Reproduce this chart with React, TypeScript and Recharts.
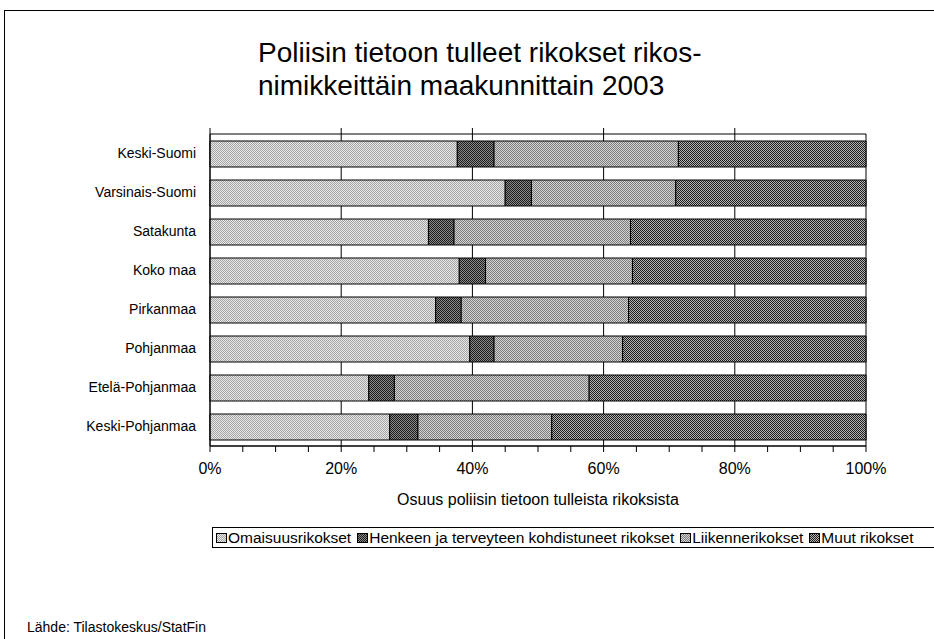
import { BarChart, Bar, XAxis, YAxis, CartesianGrid, ReferenceArea, Label } from 'recharts';

const regions = [
  'Keski-Suomi',
  'Varsinais-Suomi',
  'Satakunta',
  'Koko maa',
  'Pirkanmaa',
  'Pohjanmaa',
  'Etelä-Pohjanmaa',
  'Keski-Pohjanmaa'
];
const omaisuus = [37.7, 45.0, 33.3, 38.0, 34.4, 39.6, 24.2, 27.4];
const henkeen = [5.6, 4.0, 3.9, 4.0, 3.9, 3.7, 3.9, 4.3];
const liikenne = [28.1, 22.0, 26.9, 22.4, 25.5, 19.6, 29.7, 20.4];
const muut = [28.6, 29.0, 35.9, 35.6, 36.2, 37.1, 42.2, 47.9];

const seriesNames = [
  'Omaisuusrikokset',
  'Henkeen ja terveyteen kohdistuneet rikokset',
  'Liikennerikokset',
  'Muut rikokset'
];
const xTicks = [0, 5, 10, 15, 20, 25, 30, 35, 40, 45, 50, 55, 60, 65, 70, 75, 80, 85, 90, 95, 100];
const gridValues = [20, 40, 60, 80];

const font = '"Liberation Sans", Arial, sans-serif';

// dither-like fills, like the scanned grey shades
const patterns = [
  { id: 'p0', bg: '#e8e8e8', dot: '#a4a4a4' },
  { id: 'p1', bg: '#8a8a8a', dot: '#1c1c1c' },
  { id: 'p2', bg: '#d4d4d4', dot: '#7c7c7c' },
  { id: 'p3', bg: '#b4b4b4', dot: '#1e1e1e' }
];

const data = regions.map((name, i) => ({
  name,
  omaisuus: omaisuus[i],
  henkeen: henkeen[i],
  liikenne: liikenne[i],
  muut: muut[i]
}));

const keys = ['omaisuus', 'henkeen', 'liikenne', 'muut'];

export default function App() {
  return (
    <div style={{ position: 'absolute', left: 0, top: 0, width: 934, height: 639, background: '#fff', overflow: 'hidden', fontFamily: font }}>
      <svg width={0} height={0} style={{ position: 'absolute' }}>
        <defs>
          {patterns.map(p => (
            <pattern key={p.id} id={p.id} width={2} height={2} patternUnits="userSpaceOnUse">
              <rect x={0} y={0} width={2} height={2} fill={p.bg} />
              <rect x={0} y={0} width={1} height={1} fill={p.dot} />
              <rect x={1} y={1} width={1} height={1} fill={p.dot} />
            </pattern>
          ))}
        </defs>
      </svg>

      <div style={{ position: 'absolute', left: 4, top: 10, width: 960, height: 660, borderLeft: '1px solid #000', borderTop: '1px solid #000' }} />

      <div style={{ position: 'absolute', left: 258, top: 36, fontSize: 28, lineHeight: '33px', color: '#000' }}>
        Poliisin tietoon tulleet rikokset rikos-
        <br />
        nimikkeittäin maakunnittain 2003
      </div>

      <div style={{ position: 'absolute', left: 0, top: 0 }}>
        <BarChart
          width={934}
          height={639}
          data={data}
          layout="vertical"
          barSize={26}
          margin={{ top: 128, right: 68, bottom: 163, left: 0 }}
        >
          <CartesianGrid horizontal={false} verticalValues={gridValues} stroke="#000" />
          <XAxis
            type="number"
            domain={[0, 100]}
            ticks={xTicks}
            interval={0}
            height={30}
            tickSize={6}
            tickMargin={11}
            tickFormatter={(v: number) => (v % 20 === 0 ? `${v}%` : '')}
            tick={{ fill: '#000', fontSize: 16, fontFamily: font }}
            axisLine={{ stroke: '#000' }}
            tickLine={{ stroke: '#000' }}
          >
            <Label
              value="Osuus poliisin tietoon tulleista rikoksista"
              position="bottom"
              offset={18}
              style={{ fill: '#000', fontSize: 16, fontFamily: font }}
            />
          </XAxis>
          <YAxis
            type="category"
            dataKey="name"
            width={210}
            padding={{ top: 6, bottom: 0 }}
            tickLine={false}
            tickMargin={8}
            tick={{ fill: '#000', fontSize: 14, fontFamily: font }}
            axisLine={{ stroke: '#000' }}
          />
          {keys.map((k, i) => (
            <Bar
              key={k}
              dataKey={k}
              name={seriesNames[i]}
              stackId="a"
              fill={`url(#${patterns[i].id})`}
              stroke="#000"
              strokeWidth={1}
              isAnimationActive={false}
            />
          ))}
          <ReferenceArea x1={0} x2={100} fill="none" stroke="#000" ifOverflow="visible" />
        </BarChart>
      </div>

      <div
        style={{
          position: 'absolute',
          left: 212,
          top: 527,
          width: 717,
          height: 19,
          border: '1px solid #000',
          display: 'flex',
          alignItems: 'center',
          fontSize: 15.5,
          color: '#000',
          whiteSpace: 'nowrap',
          paddingLeft: 3,
          paddingRight: 2
        }}
      >
        {seriesNames.map((s, i) => (
          <span key={s} style={{ display: 'inline-flex', alignItems: 'center', marginRight: 6 }}>
            <svg width={11} height={10} style={{ marginRight: 1 }}>
              <rect x={0.5} y={0.5} width={10} height={9} fill={`url(#${patterns[i].id})`} stroke="#000" />
            </svg>
            {s}
          </span>
        ))}
      </div>

      <div style={{ position: 'absolute', left: 27, top: 619, fontSize: 14, color: '#000' }}>
        Lähde: Tilastokeskus/StatFin
      </div>
    </div>
  );
}
